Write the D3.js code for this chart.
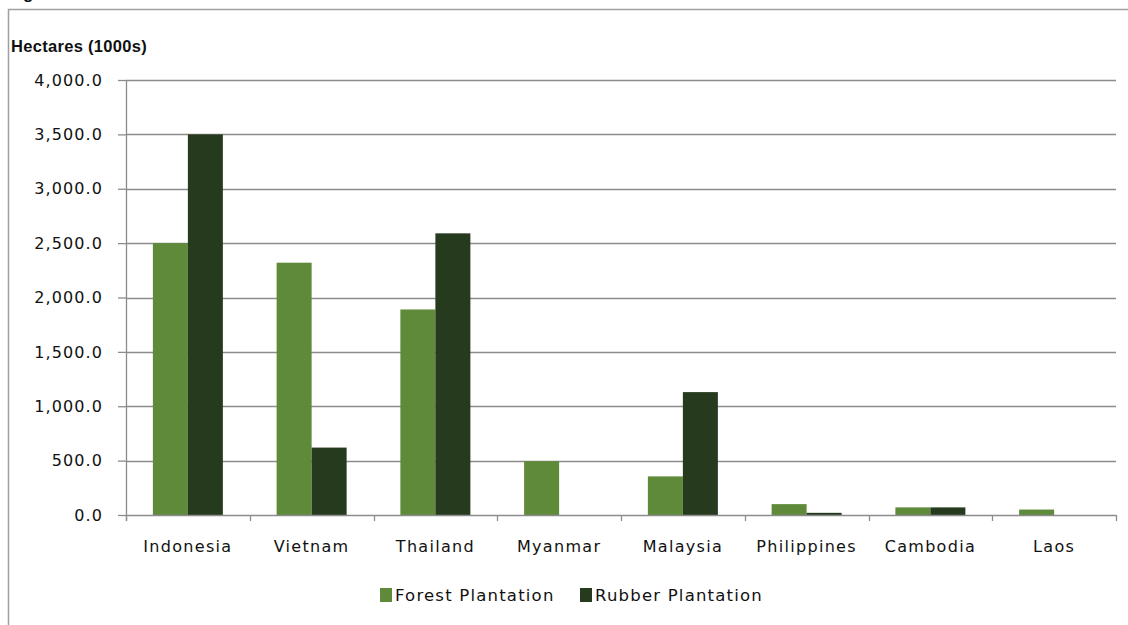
<!DOCTYPE html>
<html>
<head>
	<meta charset="utf-8">
	<title>Forest and Rubber Plantation Area in Southeast Asia</title>
	<style>
		body { margin: 0; background: #fff; }
		svg text { fill: #111; }
		.tick text { font-family: "DejaVu Sans", sans-serif; font-size: 16px; letter-spacing: 1.1px; }
		.axis path { display: none; }
	</style>
	<script src="https://cdn.jsdelivr.net/npm/d3@7"></script>
</head>
<body>
<svg width="1128" height="625"></svg>
<script>

	var countries = ["Indonesia", "Vietnam", "Thailand", "Myanmar", "Malaysia", "Philippines", "Cambodia", "Laos"];
	var forest = [2500, 2320, 1890, 495, 355, 100, 70, 50];
	var rubber = [3500, 620, 2590, 0, 1130, 20, 70, 0];
	var yTicks = [0, 500, 1000, 1500, 2000, 2500, 3000, 3500, 4000];
	var seriesNames = ["Forest Plantation", "Rubber Plantation"];
	var colors = ["#5e8a3a", "#263b1e"];

	var svg = d3.select("svg");

	// frame around the chart (cut by the window on right and bottom)
	svg.append("rect")
		.attr("x", 8.5).attr("y", 9.5)
		.attr("width", 1140).attr("height", 640)
		.attr("fill", "none")
		.attr("stroke", "#a0a0a0")
		.attr("stroke-width", 1.5);

	// title, almost entirely above the visible area
	svg.append("text")
		.attr("x", 8).attr("y", -1)
		.attr("font-family", "Liberation Sans, sans-serif")
		.attr("font-weight", "bold")
		.attr("font-size", 17)
		.text("Figure 1: Forest and Rubber Plantation Area in Southeast Asia");

	svg.append("text")
		.attr("x", 11).attr("y", 52)
		.attr("font-family", "Liberation Sans, sans-serif")
		.attr("font-weight", "bold")
		.attr("font-size", 16.5)
		.attr("letter-spacing", 0.3)
		.text("Hectares (1000s)");

	var margin = {left: 126, right: 1116, top: 80, bottom: 515};

	var x0 = d3.scaleBand()
		.domain(countries)
		.range([margin.left, margin.right])
		.paddingInner(0)
		.paddingOuter(0);

	var innerPad = (x0.bandwidth() - 70) / 2;
	var x1 = d3.scaleBand()
		.domain([0, 1])
		.range([innerPad, x0.bandwidth() - innerPad]);

	var y = d3.scaleLinear()
		.domain([0, 4000])
		.range([margin.bottom, margin.top]);

	// gridlines
	svg.append("g")
		.selectAll("line")
		.data(yTicks.slice(1))
		.enter().append("line")
			.attr("x1", margin.left).attr("x2", margin.right)
			.attr("y1", function(d) { return Math.round(y(d)) + 0.5; })
			.attr("y2", function(d) { return Math.round(y(d)) + 0.5; })
			.attr("stroke", "#8c8c8c")
			.attr("stroke-width", 1.3);

	// bars
	var groups = svg.append("g")
		.selectAll("g")
		.data(countries)
		.enter().append("g")
			.attr("transform", function(d) { return "translate(" + x0(d) + ",0)"; });

	groups.selectAll("rect")
		.data(function(d, i) { return [forest[i], rubber[i]]; })
		.enter().append("rect")
			.attr("x", function(d, j) { return x1(j); })
			.attr("y", function(d) { return y(d); })
			.attr("width", x1.bandwidth())
			.attr("height", function(d) { return margin.bottom - y(d); })
			.attr("fill", function(d, j) { return colors[j]; });

	// y axis
	var yAxis = svg.append("g")
		.attr("class", "axis")
		.attr("transform", "translate(" + margin.left + ",0)")
		.call(d3.axisLeft(y).tickValues(yTicks).tickSize(8).tickPadding(15)
			.tickFormat(d3.format(",.1f")));
	yAxis.selectAll(".tick line").attr("stroke", "#8c8c8c").attr("stroke-width", 1.3);
	svg.append("line")
		.attr("x1", margin.left + 0.5).attr("x2", margin.left + 0.5)
		.attr("y1", margin.top).attr("y2", margin.bottom + 6)
		.attr("stroke", "#8c8c8c").attr("stroke-width", 1.3);

	// x axis
	var xAxis = svg.append("g")
		.attr("class", "axis")
		.attr("transform", "translate(0," + margin.bottom + ")");
	xAxis.append("line")
		.attr("x1", margin.left).attr("x2", margin.right)
		.attr("y1", 0.5).attr("y2", 0.5)
		.attr("stroke", "#8c8c8c").attr("stroke-width", 1.5);
	var tickXs = countries.map(function(d) { return x0(d); }).concat([margin.right]);
	xAxis.selectAll(".xt")
		.data(tickXs)
		.enter().append("line")
			.attr("x1", function(d) { return Math.round(d) + 0.5; })
			.attr("x2", function(d) { return Math.round(d) + 0.5; })
			.attr("y1", 0).attr("y2", 6)
			.attr("stroke", "#8c8c8c").attr("stroke-width", 1.3);
	xAxis.selectAll(".xl")
		.data(countries)
		.enter().append("text")
			.attr("x", function(d) { return x0(d) + x0.bandwidth() / 2; })
			.attr("y", 37)
			.attr("text-anchor", "middle")
			.attr("font-family", "DejaVu Sans, sans-serif")
			.attr("font-size", 16)
			.attr("letter-spacing", 1.3)
			.text(function(d) { return d; });

	// legend
	var legendX = [380, 580];
	var legend = svg.append("g")
		.selectAll("g")
		.data(seriesNames)
		.enter().append("g")
			.attr("transform", function(d, i) { return "translate(" + legendX[i] + ",588)"; });
	legend.append("rect")
		.attr("width", 12).attr("height", 14)
		.attr("fill", function(d, i) { return colors[i]; });
	legend.append("text")
		.attr("x", 15).attr("y", 13)
		.attr("font-family", "DejaVu Sans, sans-serif")
		.attr("font-size", 16.5)
		.attr("letter-spacing", 1.2)
		.text(function(d) { return d; });

</script>
</body>
</html>
